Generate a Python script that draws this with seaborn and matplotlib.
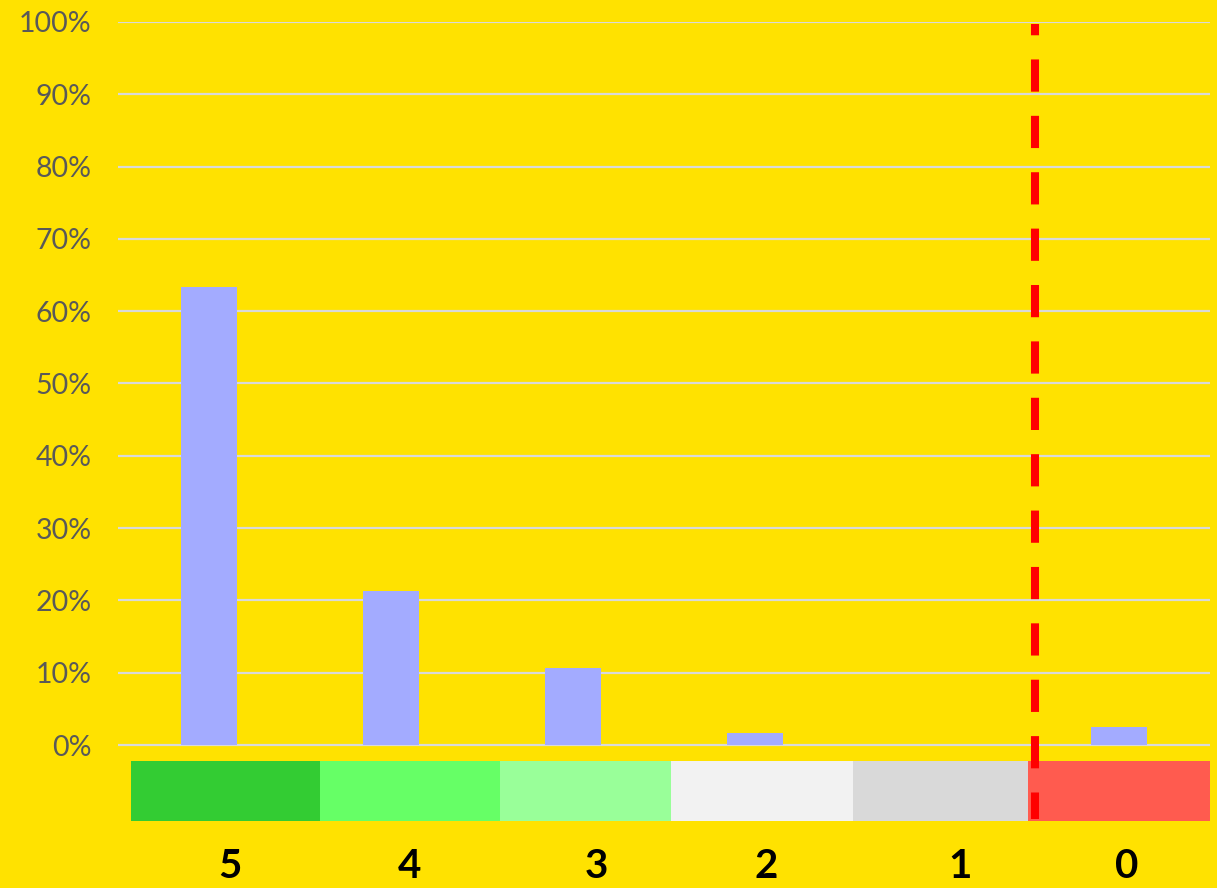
import matplotlib
matplotlib.use("Agg")
import matplotlib.pyplot as plt
import seaborn as sns
import pandas as pd
from matplotlib.ticker import PercentFormatter

# ---- data ----
categories = ["5", "4", "3", "2", "1", "0"]
shares = [0.633, 0.213, 0.106, 0.016, 0.0, 0.025]
band_colors = ["#33CC33", "#66FF66", "#99FF99", "#F2F2F2", "#D9D9D9", "#FF5B4F"]
band_edges = [-0.43, 0.61, 1.60, 2.54, 3.54, 4.50, 5.50]
label_pos = [0.115, 1.104, 2.126, 3.06, 4.126, 5.044]
threshold_pos = 4.54
y_ticks = [i / 10 for i in range(11)]

BG = "#FFE200"
BAR = "#A3ABFF"

sns.set_theme(style="white")
plt.rcParams["font.family"] = ["Lato", "DejaVu Sans"]

W, H = 1217, 888
fig = plt.figure(figsize=(W / 100, H / 100), dpi=100, facecolor=BG)

px_per_unit = 723.0
y_top_px = 22
y_min = -0.2
ax_h = (1.0 - y_min) * px_per_unit
ax = fig.add_axes([118 / W, 1 - (y_top_px + ax_h) / H, (1210 - 118) / W, ax_h / H])
ax.set_facecolor(BG)

df = pd.DataFrame({"cat": categories, "share": shares})
sns.barplot(data=df, x="cat", y="share", order=categories, color=BAR,
            width=0.31, saturation=1, linewidth=0, edgecolor="none",
            ax=ax, zorder=3)

# colored band strip under the axis
band_bottom = (745 - 821) / px_per_unit
band_top = (745 - 761) / px_per_unit
lefts = band_edges[:-1]
widths = [band_edges[i + 1] - band_edges[i] for i in range(len(band_colors))]
ax.bar(lefts, [band_top - band_bottom] * len(band_colors), width=widths,
       bottom=band_bottom, align="edge", color=band_colors, linewidth=0, zorder=2)

# category labels under bands
label_y = (745 - 885) / px_per_unit
for x, lab in zip(label_pos, categories):
    ax.text(x, label_y, lab, ha="center", va="bottom", fontsize=29,
            fontweight="bold", color="black", clip_on=False)

# gridlines
for t in y_ticks:
    ax.axhline(t, color="#D9D9D9", lw=1.6, zorder=1)

# red dashed threshold line
ax.plot([threshold_pos, threshold_pos], [0.997, (745 - 819) / px_per_unit],
        color="#FF0000", lw=5.8, linestyle=(2.6, (4, 3)), zorder=5,
        solid_capstyle="butt", dash_capstyle="butt")

ax.set_xlim(-0.5, 5.5)
ax.set_ylim(y_min, 1.0)
ax.set_yticks(y_ticks)
ax.yaxis.set_major_formatter(PercentFormatter(1.0, decimals=0))
ax.tick_params(axis="y", length=0, pad=19, labelsize=20.5, labelcolor="#595959")
ax.set_xticks([])
ax.set_xlabel("")
ax.set_ylabel("")
for s in ax.spines.values():
    s.set_visible(False)

fig.savefig("out.png", dpi=100, facecolor=BG)
